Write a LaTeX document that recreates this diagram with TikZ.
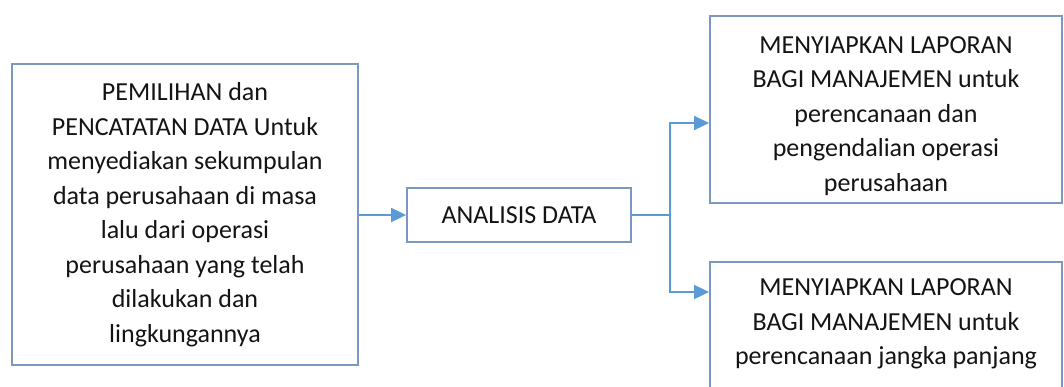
\documentclass[tikz,border=0pt]{standalone}
\usepackage{fontspec}
\setmainfont{Carlito}
\usetikzlibrary{arrows.meta}
\definecolor{boxc}{RGB}{122,152,192}
\definecolor{arrc}{RGB}{91,155,213}
\definecolor{txtc}{RGB}{20,20,20}
\begin{document}
\begin{tikzpicture}[x=1pt,y=-1pt,
  box/.style={draw=boxc,line width=1.8pt,inner sep=0pt},
  txtn/.style={align=center,text=txtc,font=\fontsize{26}{34.5}\selectfont,inner sep=0pt},
  conn/.style={draw=arrc,line width=1.8pt,-{Triangle[length=15pt,width=14pt]}}]
\useasboundingbox (0,0) rectangle (1064,386);
\clip (0,0) rectangle (1064,386);
\fill[white] (0,0) rectangle (1064,386);
% left box
\node[box,txtn,minimum width=346pt,minimum height=301pt] (src) at (185,214.5)
  {PEMILIHAN dan\\PENCATATAN DATA Untuk\\menyediakan sekumpulan\\data perusahaan di masa\\lalu dari operasi\\perusahaan yang telah\\dilakukan dan\\lingkungannya};
% middle box
\node[box,txtn,minimum width=224pt,minimum height=54pt] (ana) at (519,215) {ANALISIS DATA};
% top right
\node[txtn] (toptxt) at (886,116)
  {MENYIAPKAN LAPORAN\\BAGI MANAJEMEN untuk\\perencanaan dan\\pengendalian operasi\\perusahaan};
\node[box,minimum width=352pt,minimum height=187pt] (top) at (886,109.5) {};
% bottom right
\node[box,minimum width=352pt,minimum height=160pt] (bot) at (886,342) {};
\node[txtn] (bottxt) at (886,324)
  {MENYIAPKAN LAPORAN\\BAGI MANAJEMEN untuk\\perencanaan jangka panjang};
% connectors
\coordinate (j) at ([xshift=38pt]ana.east);
\draw[conn] (src.east |- ana.west) -- (ana.west);
\draw[conn] (ana.east) -- (j) |- ([yshift=-13.5pt]top.west);
\draw[conn] (ana.east) -- (j) |- ([yshift=50pt]bot.west);
\end{tikzpicture}
\end{document}
